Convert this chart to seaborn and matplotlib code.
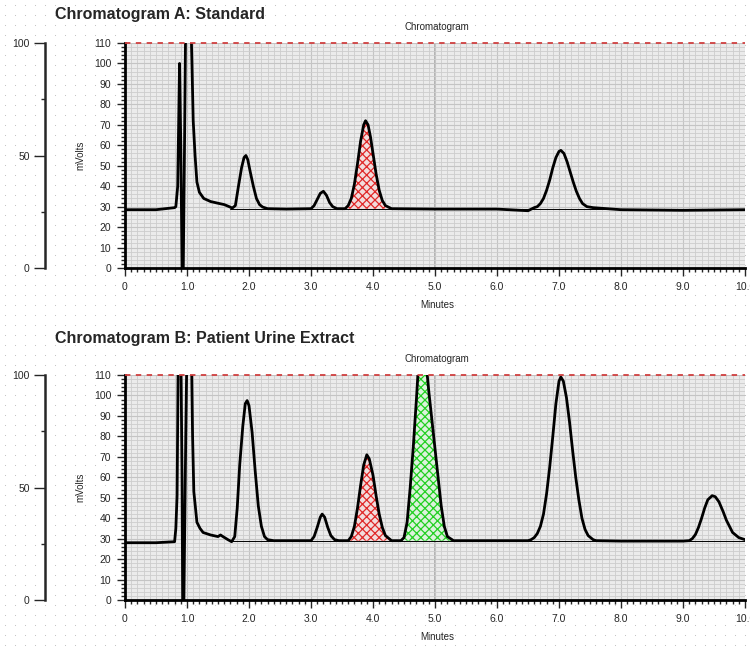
import numpy as np
import matplotlib
matplotlib.use("Agg")
import matplotlib.pyplot as plt
from matplotlib.ticker import MultipleLocator, FixedLocator
import seaborn as sns

# chromatogram A (standard): (minutes, mVolts)
trace_a = [
    (0, 28.5), (0.5, 28.5), (0.8, 29.5), (0.82, 30), (0.85, 40), (0.87, 80), (0.88, 100),
    (0.9, 60), (0.92, 0), (0.94, 0), (0.96, 60), (0.98, 125), (1.06, 125), (1.08, 100),
    (1.1, 72), (1.13, 55), (1.16, 42), (1.2, 37), (1.27, 34), (1.38, 32.5), (1.48, 31.8),
    (1.6, 31), (1.68, 30), (1.73, 29.3), (1.78, 30.5), (1.83, 40), (1.88, 49), (1.92, 54),
    (1.95, 55), (1.98, 53), (2.02, 47), (2.07, 40), (2.12, 34), (2.17, 31), (2.22, 29.8),
    (2.3, 29), (2.6, 28.8), (3.0, 29), (3.05, 30.5), (3.1, 33.5), (3.15, 36.5), (3.2, 37.5),
    (3.25, 35.5), (3.3, 32), (3.35, 30), (3.42, 29), (3.55, 29), (3.6, 30.5), (3.65, 34),
    (3.7, 41), (3.75, 51), (3.8, 62), (3.85, 70), (3.88, 72), (3.92, 70), (3.96, 64),
    (4.0, 56), (4.05, 46), (4.1, 38), (4.15, 33), (4.2, 30.5), (4.3, 29), (5.0, 28.8),
    (6.0, 28.8), (6.5, 28), (6.6, 29.5), (6.65, 30), (6.7, 31.5), (6.75, 34), (6.8, 38),
    (6.85, 43), (6.9, 49), (6.95, 54), (7.0, 57), (7.03, 57.5), (7.08, 56), (7.13, 52),
    (7.18, 47), (7.23, 42), (7.28, 37.5), (7.33, 34), (7.38, 31.5), (7.45, 30), (7.55, 29.5),
    (8.0, 28.5), (9.0, 28.2), (10.0, 28.5),
]

# chromatogram B (patient urine extract)
trace_b = [
    (0, 28), (0.5, 28), (0.8, 28.5), (0.82, 35), (0.84, 51), (0.86, 125), (0.9, 125),
    (0.92, 60), (0.93, 0), (0.95, 0), (0.98, 80), (1.0, 125), (1.07, 125), (1.09, 80),
    (1.11, 53), (1.16, 38), (1.21, 35), (1.26, 33), (1.38, 31.8), (1.5, 31), (1.54, 31.8),
    (1.58, 31), (1.66, 29.5), (1.72, 28.5), (1.77, 31), (1.81, 45), (1.85, 66), (1.9, 85),
    (1.94, 96), (1.97, 97.5), (2.0, 95), (2.05, 82), (2.1, 63), (2.15, 46), (2.2, 36),
    (2.25, 31), (2.3, 29.5), (2.4, 29), (3.0, 29), (3.05, 31), (3.1, 35.5), (3.15, 40.5),
    (3.18, 42), (3.22, 40.5), (3.27, 35.5), (3.32, 31.5), (3.38, 29.5), (3.45, 29),
    (3.6, 29), (3.65, 31), (3.7, 36), (3.75, 45), (3.8, 56), (3.85, 66), (3.9, 71),
    (3.94, 69), (4.0, 61), (4.05, 51), (4.1, 42), (4.15, 35.5), (4.2, 31.5), (4.3, 29),
    (4.45, 29), (4.5, 30.5), (4.55, 38), (4.6, 55), (4.65, 75), (4.7, 98), (4.74, 118),
    (4.8, 125), (4.85, 118), (4.9, 102), (4.95, 88), (5.0, 74), (5.05, 60), (5.1, 46),
    (5.15, 36), (5.2, 31), (5.3, 29), (6.0, 29), (6.5, 29), (6.55, 29.5), (6.6, 30.5),
    (6.65, 32.5), (6.7, 36), (6.75, 42), (6.8, 52), (6.85, 65), (6.9, 80), (6.95, 96),
    (7.0, 107), (7.03, 109), (7.07, 107), (7.12, 99), (7.17, 87), (7.22, 73), (7.27, 60),
    (7.32, 49), (7.37, 40), (7.42, 34.5), (7.47, 31.5), (7.55, 29.5), (7.6, 29),
    (8.0, 28.8), (9.0, 28.8), (9.1, 29), (9.15, 30), (9.2, 32), (9.25, 35.5), (9.3, 40),
    (9.35, 45), (9.4, 49), (9.47, 51), (9.52, 50.5), (9.58, 48), (9.65, 43), (9.7, 39),
    (9.8, 33), (9.9, 30.5), (10.0, 29.5),
]

# integrated peaks: (start, end, colour)
peaks_a = [(3.55, 4.3, "#e02828")]
peaks_b = [(3.6, 4.3, "#e02828"), (4.45, 5.3, "#22d022")]
baseline_level = 29
baseline_start = 1.7

titles = ["Chromatogram A: Standard", "Chromatogram B: Patient Urine Extract"]
minute_ticks = [0, 1, 2, 3, 4, 5, 6, 7, 8, 9, 10]
minute_labels = ["0", "1.0", "2.0", "3.0", "4.0", "5.0", "6.0", "7.0", "8.0", "9.0", "10.0"]

sns.set_style("white")
plt.rcParams['font.family'] = ['Liberation Sans', 'DejaVu Sans']
plt.rcParams['hatch.linewidth'] = 0.9

W, H = 750, 650
fig = plt.figure(figsize=(7.5, 6.5), dpi=100)

# dotted page background
bg = fig.add_axes([0, 0, 1, 1], zorder=-5)
gx, gy = np.meshgrid(np.arange(5, W, 10), np.arange(5, H, 10))
bg.scatter(gx.ravel(), gy.ravel(), s=0.6, color='#bdbdbd', linewidths=0)
bg.set_xlim(0, W)
bg.set_ylim(H, 0)
bg.axis('off')


def draw_panel(top_px, title_px, trace, peaks, title):
    bottom = 1 - (top_px + 225) / H
    height = 225 / H
    time = [p[0] for p in trace]
    mv = [p[1] for p in trace]

    # outer 0-100 scale on the left
    out = fig.add_axes([45 / W, bottom, 0.001, height])
    out.patch.set_alpha(0)
    for s in ['top', 'right', 'bottom']:
        out.spines[s].set_visible(False)
    out.spines['left'].set_linewidth(1.8)
    out.set_ylim(0, 100)
    out.set_yticks([0, 50, 100])
    out.yaxis.set_minor_locator(FixedLocator([25, 75]))
    out.set_xticks([])
    out.tick_params(axis='y', which='major', left=True, length=8, width=1, labelsize=7.5, pad=3)
    out.tick_params(axis='y', which='minor', left=True, length=3, width=1)

    ax = fig.add_axes([125 / W, bottom, 620 / W, height])
    ax.set_facecolor('#ebebeb')
    ax.set_axisbelow(True)
    ax.xaxis.set_minor_locator(MultipleLocator(0.1))
    ax.yaxis.set_minor_locator(MultipleLocator(2))
    ax.grid(which='minor', color='#cdcdcd', lw=0.6)
    ax.grid(which='major', color='#c4c4c4', lw=0.8)
    ax.axvline(5, color='#aaaaaa', lw=1.2, zorder=0.5)

    t = np.array(time)
    v = np.array(mv)
    for lo, hi, col in peaks:
        m = (t >= lo) & (t <= hi)
        face = '#f2dcdc' if col == "#e02828" else '#dcf2dc'
        ax.fill_between(t[m], v[m], baseline_level, facecolor=face, edgecolor=col,
                        hatch='xxxx', lw=0, zorder=2)

    ax.plot([baseline_start, 10], [baseline_level, baseline_level], color='black', lw=0.7, zorder=2.5)
    sns.lineplot(x=time, y=mv, ax=ax, color='black', lw=2, sort=False, estimator=None, zorder=3)
    ax.axhline(110, color='#d04040', lw=1.3, ls=(0, (3, 3)), clip_on=False, zorder=4)

    ax.set_xlim(0, 10)
    ax.set_ylim(0, 110)
    ax.set_yticks(np.arange(0, 111, 10))
    ax.xaxis.set_major_locator(FixedLocator(minute_ticks))
    ax.set_xticklabels(minute_labels)
    for s in ['top', 'right']:
        ax.spines[s].set_visible(False)
    for s in ['left', 'bottom']:
        ax.spines[s].set_linewidth(2)
        ax.spines[s].set_color('black')
    ax.tick_params(which='major', bottom=True, left=True, length=6, width=1, labelsize=7.5, pad=4)
    ax.tick_params(which='minor', bottom=True, left=True, length=3, width=1)
    ax.set_xlabel("")
    ax.set_ylabel("")

    fig.text(80 / W, 1 - (top_px + 112) / H, "mVolts", rotation=90, fontsize=7, ha='center', va='center')
    fig.text(437 / W, 1 - (top_px + 262) / H, "Minutes", fontsize=7, ha='center', va='center')
    fig.text(437 / W, 1 - (top_px - 16) / H, "Chromatogram", fontsize=7, ha='center', va='center')
    fig.text(55 / W, 1 - title_px / H, title, fontsize=11.5, fontweight='bold', ha='left', va='center')


draw_panel(43, 15, trace_a, peaks_a, titles[0])
draw_panel(375, 338, trace_b, peaks_b, titles[1])

fig.savefig("out.png", dpi=100)
